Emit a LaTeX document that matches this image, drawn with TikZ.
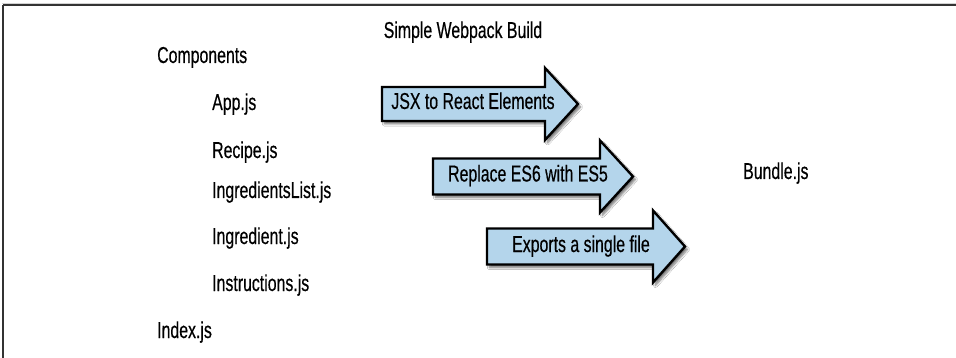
\documentclass[tikz,border=0pt]{standalone}
\usepackage{fontspec}
\setmainfont{Liberation Sans}[FakeStretch=0.69, FakeBold=0.4]
\usetikzlibrary{shadows.blur}
\definecolor{arrowblue}{HTML}{B4D5EB}
\definecolor{framegray}{HTML}{333333}
\tikzset{
  lbl/.style={inner sep=0pt, anchor=base west, font=\fontsize{23}{27}\selectfont},
  arrowlbl/.style={inner sep=0pt, anchor=base, font=\fontsize{23}{27}\selectfont},
  fatarrow/.style={draw=black, line width=2.4pt, fill=arrowblue, line join=miter,
    blur shadow={shadow xshift=2.5pt, shadow yshift=-3pt, shadow opacity=55, shadow blur steps=6}},
  framestyle/.style={draw=framegray, line width=1.6pt}
}
% #1 shaft left, #2 head start, #3 tip, #4 centre y, #5 half shaft, #6 half head
\newcommand\myfatarrow[6]{%
  \path[fatarrow] (#1,#4-#5) -- (#2,#4-#5) -- (#2,#4-#6) -- (#3,#4) -- (#2,#4+#6)
    -- (#2,#4+#5) -- (#1,#4+#5) -- cycle;}
\begin{document}
\begin{tikzpicture}[x=1pt,y=-1pt]
\useasboundingbox (0,0) rectangle (956,358);
\fill[white] (0,0) rectangle (956,358);
% frame
\draw[gray!35, line width=1pt] (2,3.2) -- (956,3.2);
\draw[framestyle] (3,5) -- (956,5);
\draw[framestyle] (3,5) -- (3,358);

% title
\node[arrowlbl] (title) at (463,38) {Simple Webpack Build};

% left list
\node[lbl] (components) at (157,63) {Components};
\node[lbl] (app) at (212,110) {App.js};
\node[lbl] (recipe) at (212,158) {Recipe.js};
\node[lbl] (inglist) at (212,198) {IngredientsList.js};
\node[lbl] (ingredient) at (212,244) {Ingredient.js};
\node[lbl] (instructions) at (212,291) {Instructions.js};
\node[lbl] (index) at (157,338) {Index.js};

% bundle
\node[lbl] (bundle) at (743,179) {Bundle.js};

% arrows
\myfatarrow{382}{545}{578}{104}{17}{36}
\node[arrowlbl] (jsx) at (473,109) {JSX to React Elements};

\myfatarrow{433}{600}{633}{176.5}{18}{36}
\node[arrowlbl] (es6) at (528,181.5) {Replace ES6 with ES5};

\myfatarrow{487}{653}{685}{246.5}{18}{36}
\node[arrowlbl] (exports) at (581,252) {Exports a single file};
\end{tikzpicture}
\end{document}
